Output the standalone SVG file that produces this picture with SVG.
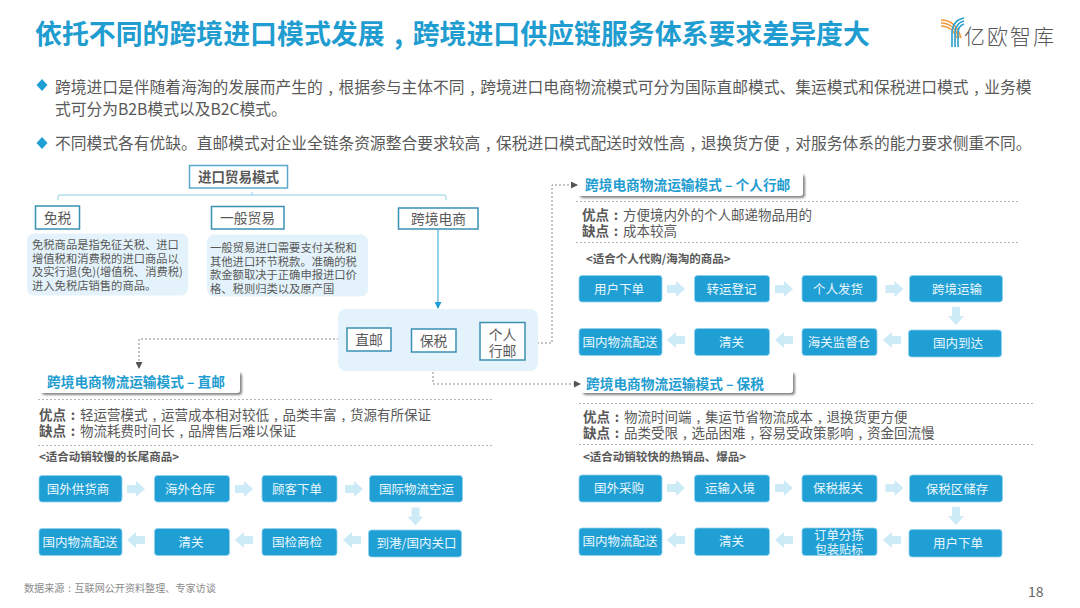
<svg xmlns="http://www.w3.org/2000/svg" width="1080" height="608" viewBox="0 0 1080 608">
<style>
text{font-family:"Noto Sans CJK SC","Noto Sans",sans-serif;fill:#595959}
.title{font-size:26.9px;font-weight:700;fill:#1f9dd0}
.bul{font-size:15.75px}
.bd{fill:#1f9fd4}
.mode{fill:#fff;stroke:#3a90b4;stroke-width:1.5}
.lab{font-size:13.8px;text-anchor:middle}
.desc{font-size:11.3px}
.dbox{fill:#e4f3fb}
.tree{fill:none;stroke:#8ccde8;stroke-width:1}
.dash{fill:none;stroke:#8a8a8a;stroke-width:1;stroke-dasharray:2 2}
.sep{fill:none;stroke:#b5b5b5;stroke-width:1;stroke-dasharray:2 2}
.hd{fill:#fff;filter:url(#sh)}
.hdt{font-size:13.7px;font-weight:700;fill:#1f9dd0}
.pc{font-size:13.5px}
.pc .b{font-weight:700}
.fit{font-size:11.5px;font-weight:700}
.st{fill:#1f9fd4;stroke:#8fd0ec;stroke-width:.8}
.stt{font-size:12.5px;fill:#eaf7fd;text-anchor:middle}
.ba{fill:#cdeaf7}
</style>
<defs>
<filter id="sh" x="-5%" y="-20%" width="112%" height="150%"><feDropShadow dx="2" dy="2" stdDeviation="1" flood-color="#666" flood-opacity=".8"/></filter>
<marker id="ah" markerWidth="7" markerHeight="7" refX="6" refY="3.5" orient="auto" markerUnits="userSpaceOnUse"><path d="M0,0L7,3.5L0,7Z" fill="#555"/></marker>
<marker id="ab" markerWidth="7" markerHeight="7" refX="6" refY="3.5" orient="auto" markerUnits="userSpaceOnUse"><path d="M0,0L7,3.5L0,7Z" fill="#1f9fd4"/></marker>
<path id="ar" d="M-9,-4H0V-8L9,0L0,8V4H-9Z"/>
</defs>
<rect width="1080" height="608" fill="#fff"/>

<text class="title" x="35" y="44">依托不同的跨境进口模式发展<tspan dx=".36em">,</tspan><tspan dx=".36em">跨境进口供应链服务体系要求差异度大</tspan></text>

<g id="logo">
<path d="M941,20Q956,20 961,38" fill="none" stroke="#f0983c" stroke-width="1.6"/>
<path d="M941,23Q954,23 959,38" fill="none" stroke="#f0983c" stroke-width="1.6"/>
<path d="M941,26Q952,26 957,38" fill="none" stroke="#f0983c" stroke-width="1.6"/>
<path d="M964,18Q953,20 952,32V47" fill="none" stroke="#2a9fd0" stroke-width="1.6"/>
<path d="M964,21Q956,23 955,32V47" fill="none" stroke="#2a9fd0" stroke-width="1.6"/>
<path d="M964,24Q958,26 958,33V47" fill="none" stroke="#2a9fd0" stroke-width="1.6"/>
<text x="964" y="44" font-size="21" font-weight="300" style="letter-spacing:2px;fill:#555">亿欧智库</text>
</g>

<g id="bullets">
<path class="bd" d="M42,79L47.500,85L42,91L36.500,85Z"/>
<text class="bul" x="55" y="93">跨境进口是伴随着海淘的发展而产生的<tspan dx=".36em">,</tspan><tspan dx=".36em">根据参与主体不同</tspan><tspan dx=".36em">,</tspan><tspan dx=".36em">跨境进口电商物流模式可分为国际直邮模式、集运模式和保税进口模式</tspan><tspan dx=".36em">,</tspan><tspan dx=".36em">业务模</tspan></text>
<text class="bul" x="55" y="115">式可分为B2B模式以及B2C模式。</text>
<path class="bd" d="M42,137L47.500,143L42,149L36.500,143Z"/>
<text class="bul" x="55" y="149">不同模式各有优缺。直邮模式对企业全链条资源整合要求较高<tspan dx=".36em">,</tspan><tspan dx=".36em">保税进口模式配送时效性高</tspan><tspan dx=".36em">,</tspan><tspan dx=".36em">退换货方便</tspan><tspan dx=".36em">,</tspan><tspan dx=".36em">对服务体系的能力要求侧重不同。</tspan></text>
</g>

<g id="connectors">
<path class="tree" d="M252,192V195M58,200V197Q58,195 60,195H444Q446,195 446,197V200"/>
<path d="M438,229V308" fill="none" stroke="#2aa5d8" stroke-width="1" marker-end="url(#ab)"/>
<path class="dash" d="M347,339H139V368" marker-end="url(#ah)"/>
<path class="dash" d="M525,343H552V185H577" marker-end="url(#ah)"/>
<path class="dash" d="M433,352V384H580" marker-end="url(#ah)"/>
<g class="ba">
<use href="#ar" transform="translate(136,489)"/><use href="#ar" transform="translate(244,489)"/><use href="#ar" transform="translate(354,489)"/>
<use href="#ar" transform="translate(415.500,516.500) rotate(90)"/>
<use href="#ar" transform="translate(136,540) rotate(180)"/><use href="#ar" transform="translate(244,540) rotate(180)"/><use href="#ar" transform="translate(352,540) rotate(180)"/>
<use href="#ar" transform="translate(676,289)"/><use href="#ar" transform="translate(784,289)"/><use href="#ar" transform="translate(894.500,289)"/>
<use href="#ar" transform="translate(956,316) rotate(90)"/>
<use href="#ar" transform="translate(676,340) rotate(180)"/><use href="#ar" transform="translate(784,340) rotate(180)"/><use href="#ar" transform="translate(892,340) rotate(180)"/>
<use href="#ar" transform="translate(676,488)"/><use href="#ar" transform="translate(784,488)"/><use href="#ar" transform="translate(894.500,488)"/>
<use href="#ar" transform="translate(956,516) rotate(90)"/>
<use href="#ar" transform="translate(676,540) rotate(180)"/><use href="#ar" transform="translate(784,540) rotate(180)"/><use href="#ar" transform="translate(892,540) rotate(180)"/>
</g>
</g>

<g id="n-root"><rect x="189.500" y="165.500" width="98" height="22.500" fill="#fff" stroke="#5aa9ca" stroke-width="1.500"/><text x="238.500" y="182" font-size="13.500" font-weight="700" text-anchor="middle">进口贸易模式</text></g>
<g id="n-dutyfree"><rect class="mode" x="35.500" y="206" width="44" height="23"/><text class="lab" x="57.500" y="223">免税</text></g>
<g id="n-general"><rect class="mode" x="211.500" y="206.500" width="72.500" height="22.500"/><text class="lab" x="247.500" y="223">一般贸易</text></g>
<g id="n-cbec"><rect class="mode" x="398.500" y="208" width="79.500" height="21"/><text class="lab" x="438.500" y="224">跨境电商</text></g>
<g id="n-desc1"><rect class="dbox" x="27" y="233.500" width="161" height="62" rx="7"/>
<text class="desc" x="32" y="249">免税商品是指免征关税、进口</text><text class="desc" x="32" y="262.500">增值税和消费税的进口商品以</text><text class="desc" x="32" y="276">及实行退(免)(增值税、消费税)</text><text class="desc" x="32" y="289.500">进入免税店销售的商品。</text></g>
<g id="n-desc2"><rect class="dbox" x="207" y="234.500" width="161" height="62" rx="7"/>
<text class="desc" x="210" y="252">一般贸易进口需要支付关税和</text><text class="desc" x="210" y="265.500">其他进口环节税款。准确的税</text><text class="desc" x="210" y="279">款金额取决于正确申报进口价</text><text class="desc" x="210" y="292.500">格、税则归类以及原产国</text></g>
<g id="n-panel"><rect class="dbox" x="338" y="309" width="200" height="62" rx="8"/></g>
<g id="n-zhiyou"><rect class="mode" x="347" y="328" width="44" height="23"/><text class="lab" x="369" y="345">直邮</text></g>
<g id="n-baoshui"><rect class="mode" x="411.500" y="329" width="44.500" height="23"/><text class="lab" x="433.500" y="346">保税</text></g>
<g id="n-geren"><rect class="mode" x="480" y="322.500" width="45" height="37.500"/><text class="lab" x="502.500" y="340">个人</text><text class="lab" x="502.500" y="356">行邮</text></g>

<g id="s-geren">
<rect class="hd" x="578" y="173" width="225" height="23" rx="3"/><text class="hdt" x="585" y="190">跨境电商物流运输模式 – 个人行邮</text>
<path class="sep" d="M576,201.500H1020M576,242.500H1020"/>
<text class="pc" x="582" y="220"><tspan class="b">优点<tspan dx=".36em">:</tspan></tspan><tspan dx=".36em">方便境内外的个人邮递物品用的</tspan></text>
<text class="pc" x="582" y="236"><tspan class="b">缺点<tspan dx=".36em">:</tspan></tspan><tspan dx=".36em">成本较高</tspan></text>
<text class="fit" x="586" y="263">&lt;适合个人代购/海淘的商品&gt;</text>
</g>
<g id="g-1"><rect class="st" x="579" y="275.500" width="83" height="26.500" rx="3"/><text class="stt" x="619" y="293.500">用户下单</text></g>
<g id="g-2"><rect class="st" x="694.500" y="275.500" width="75" height="26.500" rx="3"/><text class="stt" x="731.500" y="293.500">转运登记</text></g>
<g id="g-3"><rect class="st" x="802" y="275.500" width="75" height="26.500" rx="3"/><text class="stt" x="838" y="293.500">个人发货</text></g>
<g id="g-4"><rect class="st" x="909.500" y="275.500" width="93" height="26.500" rx="3"/><text class="stt" x="957" y="294">跨境运输</text></g>
<g id="g-5"><rect class="st" x="908.500" y="330" width="93" height="27" rx="3"/><text class="stt" x="958" y="348">国内到达</text></g>
<g id="g-6"><rect class="st" x="802" y="328.500" width="75" height="27" rx="3"/><text class="stt" x="839" y="346.500">海关监督仓</text></g>
<g id="g-7"><rect class="st" x="694.500" y="328.500" width="75" height="27" rx="3"/><text class="stt" x="731.500" y="346.500">清关</text></g>
<g id="g-8"><rect class="st" x="579" y="328.500" width="83" height="27" rx="3"/><text class="stt" x="620" y="346.500">国内物流配送</text></g>

<g id="s-zhiyou">
<rect class="hd" x="40" y="371" width="200" height="22" rx="3"/><text class="hdt" x="47" y="387">跨境电商物流运输模式 – 直邮</text>
<path class="sep" d="M38,399.500H492M38,445.500H492"/>
<text class="pc" x="39" y="420"><tspan class="b">优点<tspan dx=".36em">:</tspan></tspan><tspan dx=".36em">轻运营模式</tspan><tspan dx=".36em">,</tspan><tspan dx=".36em">运营成本相对较低</tspan><tspan dx=".36em">,</tspan><tspan dx=".36em">品类丰富</tspan><tspan dx=".36em">,</tspan><tspan dx=".36em">货源有所保证</tspan></text>
<text class="pc" x="39" y="436"><tspan class="b">缺点<tspan dx=".36em">:</tspan></tspan><tspan dx=".36em">物流耗费时间长</tspan><tspan dx=".36em">,</tspan><tspan dx=".36em">品牌售后难以保证</tspan></text>
<text class="fit" x="39" y="461">&lt;适合动销较慢的长尾商品&gt;</text>
</g>
<g id="z-1"><rect class="st" x="39" y="475.500" width="83" height="26.500" rx="3"/><text class="stt" x="78" y="493.500">国外供货商</text></g>
<g id="z-2"><rect class="st" x="154.500" y="475.500" width="75" height="26.500" rx="3"/><text class="stt" x="190" y="493.500">海外仓库</text></g>
<g id="z-3"><rect class="st" x="262" y="475.500" width="75" height="26.500" rx="3"/><text class="stt" x="297" y="493.500">顾客下单</text></g>
<g id="z-4"><rect class="st" x="369.500" y="475.500" width="93" height="26.500" rx="3"/><text class="stt" x="416.500" y="493.500">国际物流空运</text></g>
<g id="z-5"><rect class="st" x="368.500" y="530" width="93" height="27" rx="3"/><text class="stt" x="416.500" y="548">到港/国内关口</text></g>
<g id="z-6"><rect class="st" x="262" y="528.500" width="75" height="27" rx="3"/><text class="stt" x="297" y="546.500">国检商检</text></g>
<g id="z-7"><rect class="st" x="154.500" y="528.500" width="75" height="27" rx="3"/><text class="stt" x="191" y="546.500">清关</text></g>
<g id="z-8"><rect class="st" x="39" y="528.500" width="83" height="27" rx="3"/><text class="stt" x="80" y="546.500">国内物流配送</text></g>

<g id="s-baoshui">
<rect class="hd" x="581" y="371" width="212" height="22" rx="3"/><text class="hdt" x="586" y="389">跨境电商物流运输模式 – 保税</text>
<path class="sep" d="M579,403.500H1034M579,444.500H1034"/>
<text class="pc" x="583" y="422"><tspan class="b">优点<tspan dx=".36em">:</tspan></tspan><tspan dx=".36em">物流时间端</tspan><tspan dx=".36em">,</tspan><tspan dx=".36em">集运节省物流成本</tspan><tspan dx=".36em">,</tspan><tspan dx=".36em">退换货更方便</tspan></text>
<text class="pc" x="583" y="438"><tspan class="b">缺点<tspan dx=".36em">:</tspan></tspan><tspan dx=".36em">品类受限</tspan><tspan dx=".36em">,</tspan><tspan dx=".36em">选品困难</tspan><tspan dx=".36em">,</tspan><tspan dx=".36em">容易受政策影响</tspan><tspan dx=".36em">,</tspan><tspan dx=".36em">资金回流慢</tspan></text>
<text class="fit" x="583" y="461">&lt;适合动销较快的热销品、爆品&gt;</text>
</g>
<g id="b-1"><rect class="st" x="579" y="475" width="83" height="27" rx="3"/><text class="stt" x="619" y="493">国外采购</text></g>
<g id="b-2"><rect class="st" x="694.500" y="475" width="75" height="27" rx="3"/><text class="stt" x="730" y="493">运输入境</text></g>
<g id="b-3"><rect class="st" x="802" y="475" width="75" height="27" rx="3"/><text class="stt" x="838" y="493">保税报关</text></g>
<g id="b-4"><rect class="st" x="909.500" y="475" width="93" height="27" rx="3"/><text class="stt" x="957" y="494">保税区储存</text></g>
<g id="b-5"><rect class="st" x="909" y="529.500" width="93" height="27.500" rx="3"/><text class="stt" x="958" y="548">用户下单</text></g>
<g id="b-6"><rect class="st" x="802" y="528" width="75" height="27.500" rx="3"/><text class="stt" x="839" y="540">订单分拣</text><text class="stt" x="839" y="554" style="font-size:12px">包装贴标</text></g>
<g id="b-7"><rect class="st" x="694.500" y="528" width="75" height="27.500" rx="3"/><text class="stt" x="731.500" y="546">清关</text></g>
<g id="b-8"><rect class="st" x="579" y="528" width="83" height="27.500" rx="3"/><text class="stt" x="620" y="546">国内物流配送</text></g>

<text x="24" y="592" font-size="10.100" style="fill:#8c8c8c">数据来源<tspan dx=".36em">:</tspan><tspan dx=".36em">互联网公开资料整理、专家访谈</tspan></text>
<text x="1028" y="597" font-size="14" style="fill:#666">18</text>
</svg>
